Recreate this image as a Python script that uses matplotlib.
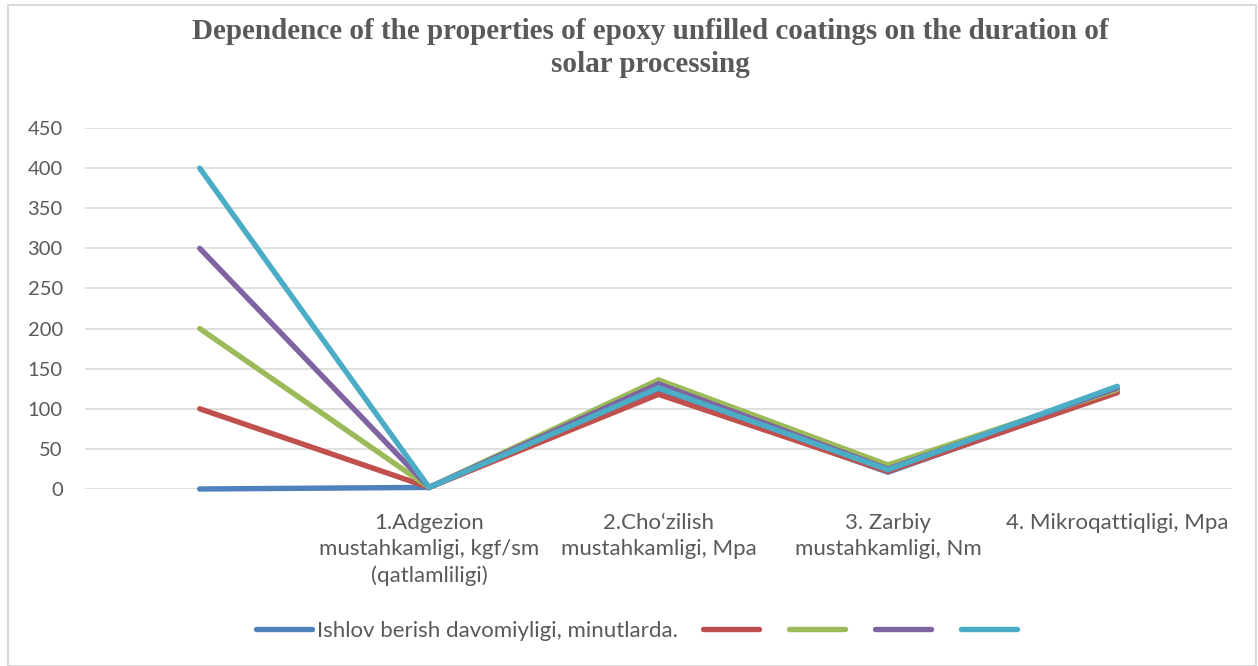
import numpy as np
import matplotlib
matplotlib.use('Agg')
import matplotlib.pyplot as plt
from matplotlib.patches import Rectangle

# categories on the x axis (first one has no label)
categories = ['',
              '1.Adgezion\nmustahkamligi, kgf/sm\n(qatlamliligi)',
              '2.Cho\u2018zilish\nmustahkamligi, Mpa',
              '3. Zarbiy\nmustahkamligi, Nm',
              '4. Mikroqattiqligi, Mpa']

# series values
s_blue = [0, 2, 122, 21, 122]
s_red = [100, 2, 118, 22, 120]
s_green = [200, 2, 136, 30, 124]
s_purple = [300, 2, 131, 25, 126]
s_cyan = [400, 2, 126, 24, 128]

series = [s_blue, s_red, s_green, s_purple, s_cyan]
labels = ['Ishlov berish davomiyligi, minutlarda.', '', '', '', '']
colors = ['#4F81BD', '#C0504D', '#9BBB59', '#8064A2', '#4BACC6']

yticks = np.arange(0, 451, 50)
title = 'Dependence of the properties of epoxy unfilled coatings on the duration of\nsolar processing'

txtcol = '#595959'
plt.rcParams['font.family'] = ['Lato', 'DejaVu Sans']

fig = plt.figure(figsize=(12.58, 6.66), dpi=100)
fig.patches.append(Rectangle((8/1258, 0), 1248/1258, 661/666, transform=fig.transFigure,
                             fill=False, edgecolor='#D9D9D9', linewidth=1.5))

ax = fig.add_axes([85/1258, (666-489)/666, (1232-85)/1258, (489-128)/666])
x = np.arange(len(categories))
handles = []
for vals, c in zip(series, colors):
    h, = ax.plot(x, vals, color=c, linewidth=3.9, solid_capstyle='round',
                 solid_joinstyle='miter', clip_on=False)
    handles.append(h)

ax.set_xlim(-0.5, len(categories) - 0.5)
ax.set_ylim(0, 450)
ax.set_yticks(yticks)
ax.set_xticks(x)
ax.set_xticklabels(categories, fontsize=16, color=txtcol, linespacing=1.4)
ax.tick_params(axis='y', labelsize=14.5, labelcolor=txtcol, length=0, pad=16)
ax.tick_params(axis='x', length=0, pad=17)
ax.grid(axis='y', color='#D9D9D9', linewidth=1.2)
ax.set_axisbelow(True)
for sp in ax.spines.values():
    sp.set_visible(False)

fig.text(650/1258, 1 - 18/666, title, ha='center', va='top', fontsize=21, fontweight='bold',
         family='Liberation Serif', color=txtcol, linespacing=1.3)

fig.legend(handles, labels, loc='center', bbox_to_anchor=(639/1258, (666-631)/666), ncol=5,
           frameon=False, fontsize=16, labelcolor=txtcol, handlelength=2.5,
           handletextpad=0.22, columnspacing=1.15)

fig.savefig('out.png', dpi=100)
